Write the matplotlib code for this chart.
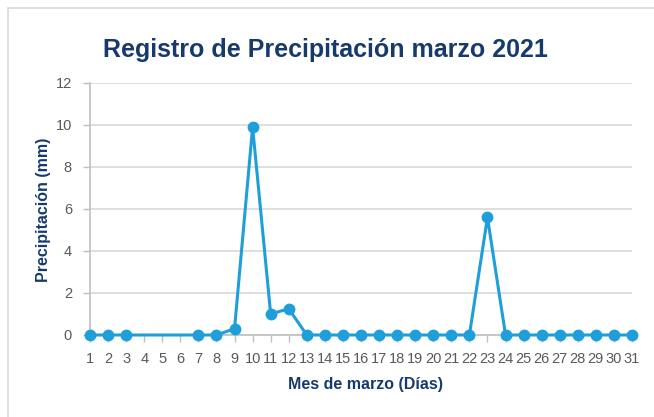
import numpy as np
import matplotlib.pyplot as plt
from matplotlib.patches import Rectangle

# rainfall per day, days 4-6 have no record (line joins across them)
days = [1, 2, 3, 7, 8, 9, 10, 11, 12, 13, 14, 15, 16, 17, 18, 19, 20,
        21, 22, 23, 24, 25, 26, 27, 28, 29, 30, 31]
rain = [0, 0, 0, 0, 0, 0.3, 9.9, 1.0, 1.25, 0, 0, 0, 0, 0, 0, 0, 0,
        0, 0, 5.6, 0, 0, 0, 0, 0, 0, 0, 0]
xticks = list(range(1, 32))
yticks = [0, 2, 4, 6, 8, 10, 12]

title = 'Registro de Precipitación marzo 2021'
xlabel = 'Mes de marzo (Días)'
ylabel = 'Precipitación (mm)'

blue = '#1F9FD9'
navy = '#163A6C'
gray = '#595959'

fig = plt.figure(figsize=(6.54, 4.17), dpi=100)
ax = fig.add_axes([90/654, 1-335/417, 542/654, 252/417])

ax.plot(days, rain, color=blue, lw=2.2, marker='o', ms=7.5, zorder=3, clip_on=False)

ax.set_xlim(1, 31)
ax.set_ylim(0, 12)
ax.set_xticks(xticks)
ax.set_xticklabels([str(d) for d in xticks], family='Liberation Sans', fontsize=10.5, color=gray)
ax.set_yticks(yticks)
ax.set_yticklabels([str(v) for v in yticks], family='Liberation Sans', fontsize=10.5, color=gray)
ax.tick_params(axis='both', length=5, color='#BFBFBF', width=1)
ax.tick_params(axis='x', pad=7)
ax.tick_params(axis='y', pad=8)

ax.grid(axis='y', color='#D9D9D9', lw=1.2)
ax.set_axisbelow(True)
for s in ['top', 'right']:
    ax.spines[s].set_visible(False)
for s in ['left', 'bottom']:
    ax.spines[s].set_color('#BFBFBF')
    ax.spines[s].set_linewidth(1.2)

fig.text(325/654, 1-57/417, title, family='Liberation Sans', fontsize=18, fontweight='bold',
         color=navy, ha='center', va='baseline')
fig.text(366/654, 1-385/417, xlabel, family='Liberation Sans', fontsize=11.5, fontweight='bold',
         color=navy, ha='center', va='center')
fig.text(44/654, 1-210/417, ylabel, family='Liberation Sans', fontsize=11.5, fontweight='bold',
         color=navy, ha='center', va='center', rotation=90)

# chart area border
fig.patches.append(Rectangle((8/654, -0.1), 1.2, 1 - 8/417 + 0.1, transform=fig.transFigure,
                             fill=False, edgecolor='#D9D9D9', lw=1.2))

fig.savefig('out.png', dpi=100, facecolor='white')
